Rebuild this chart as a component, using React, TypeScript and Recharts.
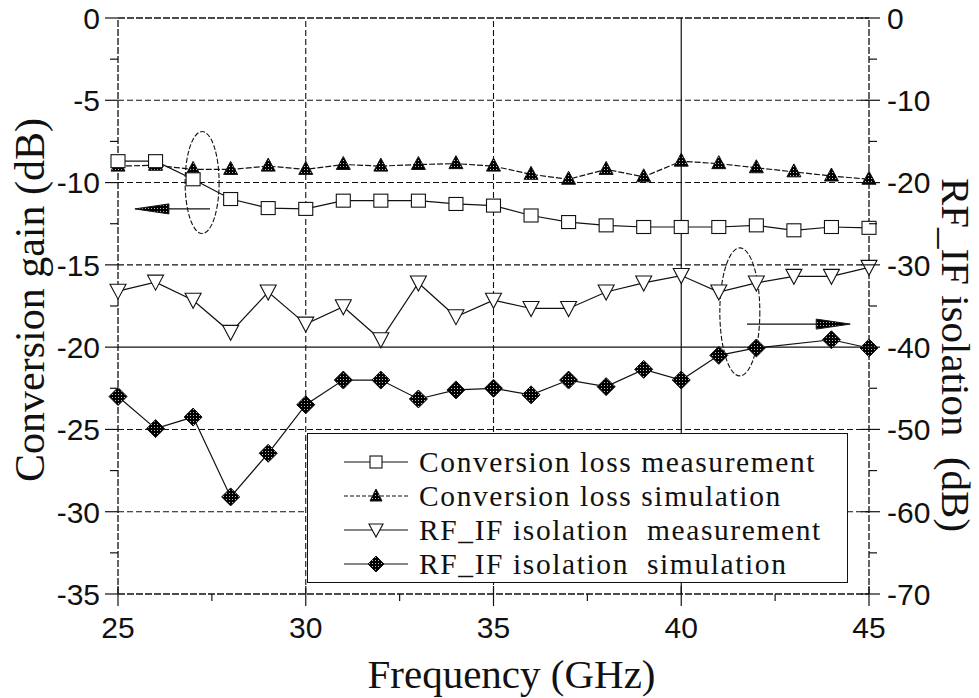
import React from 'react';
import { LineChart, Line, XAxis, YAxis, ReferenceLine, ReferenceDot, Legend } from 'recharts';

const freq = [25, 26, 27, 28, 29, 30, 31, 32, 33, 34, 35, 36, 37, 38, 39, 40, 41, 42, 43, 44, 45];
const convLossMeas = [-8.7, -8.7, -9.8, -11.0, -11.55, -11.6, -11.1, -11.1, -11.1, -11.3, -11.4, -12.0, -12.4, -12.6, -12.7, -12.7, -12.7, -12.6, -12.9, -12.7, -12.75];
const convLossSim = [-9.0, -8.95, -9.2, -9.2, -9.0, -9.2, -8.9, -9.0, -8.9, -8.85, -9.0, -9.5, -9.8, -9.2, -9.65, -8.7, -8.85, -9.1, -9.35, -9.6, -9.8];
const isoMeas = [-33.2, -32.1, -34.3, -38.2, -33.3, -37.2, -35.1, -39.1, -32.2, -36.3, -34.3, -35.3, -35.3, -33.3, -32.2, -31.3, -33.3, -32.2, -31.4, -31.4, -30.3];
const isoSim: (number | null)[] = [-46.0, -49.9, -48.5, -58.2, -52.9, -47.0, -44.0, -44.0, -46.3, -45.2, -45.0, -45.8, -44.0, -44.8, -42.7, -44.0, -41.0, -40.1, null, -39.1, -40.1];

const xTicks = [25, 27.5, 30, 32.5, 35, 37.5, 40, 42.5, 45];
const leftTicks = [0, -2.5, -5, -7.5, -10, -12.5, -15, -17.5, -20, -22.5, -25, -27.5, -30, -32.5, -35];
const rightTicks = [0, -5, -10, -15, -20, -25, -30, -35, -40, -45, -50, -55, -60, -65, -70];
const dashedGridY = [-5, -10, -15, -25, -30];
const solidGridY = [-20];
const dashedGridX = [30, 35];
const solidGridX = [40];

const legendLabels = [
  'Conversion loss measurement',
  'Conversion loss simulation',
  'RF_IF isolation  measurement',
  'RF_IF isolation  simulation',
];

const data = freq.map((f, i) => ({
  f,
  clm: convLossMeas[i],
  cls: convLossSim[i],
  ism: isoMeas[i],
  iss: isoSim[i],
}));

const SERIF = '"Liberation Serif", "DejaVu Serif", serif';
const SANS = '"Liberation Sans", Arial, sans-serif';
const INK = '#111';

const isMajor = (v: number, step: number) => Math.abs(v / step - Math.round(v / step)) < 1e-6;

const SquareDot = (p: any) => (
  <rect key={`sq-${p.index}`} x={p.cx - 7} y={p.cy - 6.5} width={14} height={13} fill="#fff" stroke={INK} strokeWidth={1.1} />
);
const TriUpDot = (p: any) => (
  <polygon key={`tu-${p.index}`} points={`${p.cx},${p.cy - 8} ${p.cx - 7},${p.cy + 5} ${p.cx + 7},${p.cy + 5}`} fill="url(#speckle)" stroke={INK} strokeWidth={1} />
);
const TriDownDot = (p: any) => (
  <polygon key={`td-${p.index}`} points={`${p.cx - 8},${p.cy - 7} ${p.cx + 8},${p.cy - 7} ${p.cx},${p.cy + 8}`} fill="#fff" stroke={INK} strokeWidth={1.1} />
);
const DiamondDot = (p: any) => {
  if (p.value == null || p.cy == null || isNaN(p.cy)) return <g key={`dm-${p.index}`} />;
  return (
    <polygon key={`dm-${p.index}`} points={`${p.cx},${p.cy - 9} ${p.cx + 9},${p.cy} ${p.cx},${p.cy + 9} ${p.cx - 9},${p.cy}`} fill="url(#speckle)" stroke={INK} strokeWidth={1} />
  );
};

const LeftTick = (p: any) => {
  const v = p.payload.value;
  const major = isMajor(v, 5);
  return (
    <g>
      <line x1={p.x - (major ? 13 : 8)} x2={p.x} y1={p.y} y2={p.y} stroke={INK} strokeWidth={1.2} />
      {major && (
        <text x={p.x - 18} y={p.y} dy="0.36em" textAnchor="end" fontFamily={SANS} fontSize={30} fill={INK}>
          {v}
        </text>
      )}
    </g>
  );
};

const RightTick = (p: any) => {
  const v = p.payload.value;
  const major = isMajor(v, 10);
  return (
    <g>
      <line x1={major ? p.x - 8 : p.x} x2={p.x + (major ? 11 : 8)} y1={p.y} y2={p.y} stroke={INK} strokeWidth={1.2} />
      {major && (
        <text x={p.x + 18} y={p.y} dy="0.36em" textAnchor="start" fontFamily={SANS} fontSize={30} fill={INK}>
          {v}
        </text>
      )}
    </g>
  );
};

const BottomTick = (p: any) => {
  const v = p.payload.value;
  const major = isMajor(v, 5);
  return (
    <g>
      <line x1={p.x} x2={p.x} y1={major ? p.y - 8 : p.y} y2={p.y + (major ? 12 : 7)} stroke={INK} strokeWidth={1.2} />
      {major && (
        <text x={p.x} y={p.y + 44} textAnchor="middle" fontFamily={SANS} fontSize={30} fill={INK}>
          {v}
        </text>
      )}
    </g>
  );
};

const TopTick = (p: any) => {
  const v = p.payload.value;
  const major = isMajor(v, 5);
  if (major) return <g />;
  return <line x1={p.x} x2={p.x} y1={p.y} y2={p.y + 7} stroke={INK} strokeWidth={1.2} />;
};

const Ellipse = (rx: number, ry: number) => (p: any) => (
  <ellipse cx={p.cx} cy={p.cy} rx={rx} ry={ry} fill="none" stroke={INK} strokeWidth={1.1} strokeDasharray="5 2" />
);

const Arrow = (p: any) => {
  const { x1, y1, x2, y2 } = p;
  const dir = x2 > x1 ? 1 : -1;
  const headLen = 34;
  const hx = x2 - dir * headLen;
  return (
    <g>
      <line x1={x1} y1={y1} x2={hx} y2={y2} stroke={INK} strokeWidth={1.4} />
      <polygon points={`${x2},${y2} ${hx},${y2 - 5} ${hx},${y2 + 5}`} fill="url(#speckle)" stroke={INK} strokeWidth={1} />
    </g>
  );
};

const legendMarkers = [
  (cx: number, cy: number) => <rect x={cx - 6} y={cy - 6} width={12} height={12} fill="#fff" stroke={INK} strokeWidth={1.1} />,
  (cx: number, cy: number) => <polygon points={`${cx},${cy - 7} ${cx - 6},${cy + 5} ${cx + 6},${cy + 5}`} fill="url(#speckle)" stroke={INK} />,
  (cx: number, cy: number) => <polygon points={`${cx - 7},${cy - 6} ${cx + 7},${cy - 6} ${cx},${cy + 7}`} fill="#fff" stroke={INK} strokeWidth={1.1} />,
  (cx: number, cy: number) => <polygon points={`${cx},${cy - 8} ${cx + 8},${cy} ${cx},${cy + 8} ${cx - 8},${cy}`} fill="url(#speckle)" stroke={INK} />,
];
const legendDash = [undefined, '4 2', undefined, undefined];

const ROW = 34;

const LegendBox = () => (
  <div
    style={{
      width: '100%',
      height: '100%',
      boxSizing: 'border-box',
      border: `1.6px solid ${INK}`,
      background: '#fff',
      paddingTop: 11,
      paddingLeft: 36,
    }}
  >
    {legendLabels.map((lab, i) => (
      <div key={lab} style={{ display: 'flex', alignItems: 'center', height: ROW }}>
        <svg width={64} height={ROW} style={{ flex: 'none' }}>
          <line x1={0} x2={64} y1={ROW / 2} y2={ROW / 2} stroke={INK} strokeWidth={1.2} strokeDasharray={legendDash[i]} />
          {legendMarkers[i](32, ROW / 2)}
        </svg>
        <span
          style={{
            marginLeft: 11,
            fontFamily: SERIF,
            fontSize: 29.5,
            letterSpacing: 1.6,
            lineHeight: `${ROW}px`,
            color: INK,
            whiteSpace: 'pre',
          }}
        >
          {lab}
        </span>
      </div>
    ))}
  </div>
);

const LeftLabel = (p: any) => {
  const vb = p.viewBox || { x: 0, y: 18, width: 118, height: 576 };
  const x = vb.x + 44;
  const y = vb.y + 282;
  return (
    <text x={x} y={y} transform={`rotate(-90 ${x} ${y})`} textAnchor="middle" fontFamily={SERIF} fontSize={42} fill={INK}>
      Conversion gain (dB)
    </text>
  );
};

const RightLabel = (p: any) => {
  const vb = p.viewBox || { x: 869, y: 18, width: 110, height: 576 };
  const x = vb.x + 73;
  const y = vb.y + 337;
  return (
    <text x={x} y={y} transform={`rotate(90 ${x} ${y})`} textAnchor="middle" fontFamily={SERIF} fontSize={41} fill={INK} style={{ whiteSpace: 'pre' }}>
      {'RF_IF isolation  (dB)'}
    </text>
  );
};

const BottomLabel = (p: any) => {
  const vb = p.viewBox || { x: 118, y: 594, width: 751, height: 104 };
  return (
    <text x={vb.x + vb.width / 2 + 18} y={vb.y + 94} textAnchor="middle" fontFamily={SERIF} fontSize={41} fill={INK}>
      Frequency (GHz)
    </text>
  );
};

export default function App() {
  return (
    <div style={{ position: 'absolute', left: 0, top: 0, width: 979, height: 698, background: '#fff' }}>
      <svg width={0} height={0} style={{ position: 'absolute' }}>
        <defs>
          <pattern id="speckle" width={3} height={3} patternUnits="userSpaceOnUse">
            <rect width={3} height={3} fill="#000" />
            <rect x={1} y={1} width={1} height={1} fill="#bbb" />
          </pattern>
        </defs>
      </svg>
      <LineChart width={979} height={698} data={data} margin={{ top: 18, right: 0, bottom: 0, left: 0 }}>
        <XAxis
          dataKey="f"
          type="number"
          domain={[25, 45]}
          ticks={xTicks}
          interval={0}
          height={104}
          axisLine={false}
          tickLine={false}
          tickSize={0}
          tickMargin={0}
          tick={<BottomTick />}
          label={<BottomLabel />}
        />
        <XAxis
          xAxisId="top"
          orientation="top"
          dataKey="f"
          type="number"
          domain={[25, 45]}
          ticks={xTicks}
          interval={0}
          height={0}
          axisLine={false}
          tickLine={false}
          tickSize={0}
          tickMargin={0}
          tick={<TopTick />}
        />
        <YAxis
          yAxisId="left"
          type="number"
          domain={[-35, 0]}
          ticks={leftTicks}
          interval={0}
          width={118}
          axisLine={false}
          tickLine={false}
          tickSize={0}
          tickMargin={0}
          tick={<LeftTick />}
          label={<LeftLabel />}
        />
        <YAxis
          yAxisId="right"
          orientation="right"
          type="number"
          domain={[-70, 0]}
          ticks={rightTicks}
          interval={0}
          width={110}
          axisLine={false}
          tickLine={false}
          tickSize={0}
          tickMargin={0}
          tick={<RightTick />}
          label={<RightLabel />}
        />

        {dashedGridY.map((v) => (
          <ReferenceLine key={`gy${v}`} yAxisId="left" y={v} stroke={INK} strokeWidth={1.1} strokeDasharray="6 3" />
        ))}
        {solidGridY.map((v) => (
          <ReferenceLine key={`sy${v}`} yAxisId="left" y={v} stroke={INK} strokeWidth={1.4} />
        ))}
        {dashedGridX.map((v) => (
          <ReferenceLine key={`gx${v}`} yAxisId="left" x={v} stroke={INK} strokeWidth={1.1} strokeDasharray="6 3" />
        ))}
        {solidGridX.map((v) => (
          <ReferenceLine key={`sx${v}`} yAxisId="left" x={v} stroke={INK} strokeWidth={1.2} />
        ))}

        <ReferenceLine yAxisId="left" y={0} stroke={INK} strokeWidth={1.3} strokeDasharray="7 2" />
        <ReferenceLine yAxisId="left" y={-35} stroke={INK} strokeWidth={1.3} strokeDasharray="7 2" />
        <ReferenceLine yAxisId="left" x={25} stroke={INK} strokeWidth={1.3} strokeDasharray="7 2" />
        <ReferenceLine yAxisId="left" x={45} stroke={INK} strokeWidth={1.3} strokeDasharray="7 2" />

        <Line yAxisId="right" dataKey="iss" stroke={INK} strokeWidth={1.2} connectNulls dot={DiamondDot} activeDot={false} isAnimationActive={false} />
        <Line yAxisId="right" dataKey="ism" stroke={INK} strokeWidth={1.2} dot={TriDownDot} activeDot={false} isAnimationActive={false} />
        <Line yAxisId="left" dataKey="cls" stroke={INK} strokeWidth={1.2} strokeDasharray="6 2" dot={TriUpDot} activeDot={false} isAnimationActive={false} />
        <Line yAxisId="left" dataKey="clm" stroke={INK} strokeWidth={1.2} dot={SquareDot} activeDot={false} isAnimationActive={false} />

        <ReferenceDot yAxisId="left" x={27.24} y={-10} r={1} shape={Ellipse(17, 51)} />
        <ReferenceDot yAxisId="left" x={41.56} y={-17.86} r={1} shape={Ellipse(20, 64)} />
        <ReferenceLine
          yAxisId="left"
          segment={[{ x: 27.45, y: -11.6 }, { x: 25.45, y: -11.6 }]}
          shape={Arrow}
        />
        <ReferenceLine
          yAxisId="left"
          segment={[{ x: 41.75, y: -18.6 }, { x: 44.5, y: -18.6 }]}
          shape={Arrow}
        />

        <Legend
          layout="horizontal"
          verticalAlign="middle"
          align="center"
          content={<LegendBox />}
          wrapperStyle={{ position: 'absolute', left: 307, top: 433, width: 541, height: 150 }}
        />
      </LineChart>
    </div>
  );
}
